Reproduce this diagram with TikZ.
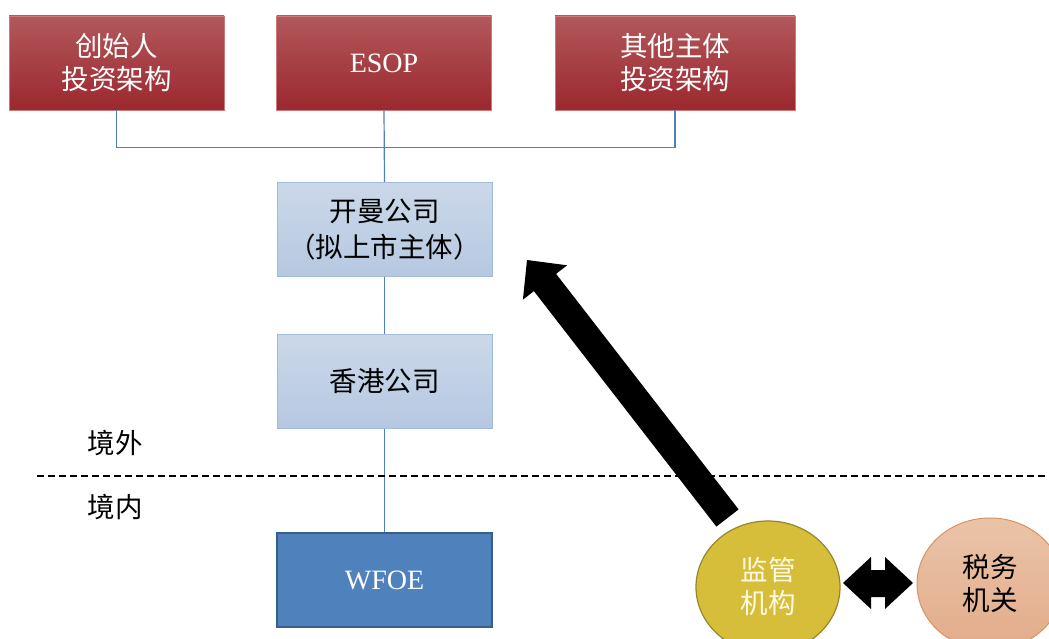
\documentclass[tikz,border=0pt]{standalone}
\usepackage{fontspec}
\setmainfont{Liberation Serif}
\newfontfamily\cjk{Noto Sans CJK SC}
\usetikzlibrary{shapes.geometric}
\definecolor{redtop}{RGB}{178,88,92}
\definecolor{redbot}{RGB}{155,40,46}
\definecolor{redline}{RGB}{205,120,122}
\definecolor{bluetop}{RGB}{203,216,233}
\definecolor{bluebot}{RGB}{182,200,225}
\definecolor{blueline}{RGB}{160,187,220}
\definecolor{wfoe}{RGB}{79,129,189}
\definecolor{wfoeline}{RGB}{56,93,138}
\definecolor{conncol}{RGB}{79,129,189}
\definecolor{gold}{RGB}{214,190,58}
\definecolor{goldline}{RGB}{150,135,40}
\definecolor{peachtop}{RGB}{234,196,168}
\definecolor{peachbot}{RGB}{226,172,138}
\definecolor{peachline}{RGB}{220,145,95}
\definecolor{cream}{RGB}{255,250,225}
\tikzset{
  redbox/.style={rectangle, minimum width=215, minimum height=94, top color=redtop, bottom color=redbot, draw=redline, line width=0.8, text=white, align=center},
  bluebox/.style={rectangle, minimum width=215, minimum height=94, top color=bluetop, bottom color=bluebot, draw=blueline, line width=1, text=black, align=center},
  wfoebox/.style={rectangle, minimum width=215, minimum height=94, fill=wfoe, draw=wfoeline, line width=1.5, text=white, align=center},
  cjkfont/.style={font=\cjk\fontsize{27.5}{33}\selectfont},
  latfont/.style={font=\fontsize{28}{34}\selectfont},
  conn/.style={draw=conncol, line width=1.2},
  region/.style={font=\cjk\fontsize{27.5}{33}\selectfont, text=black},
}
\begin{document}
\begin{tikzpicture}[x=1pt,y=-1pt]
\useasboundingbox (0,0) rectangle (1049,639);
\clip (0,0) rectangle (1049,639);
\fill[white] (0,0) rectangle (1049,639);

% top boxes
\node[redbox, cjkfont] (f) at (116.5,63) {创始人\\投资架构};
\node[redbox, latfont] (e) at (384,63) {ESOP};
\node[redbox, cjkfont, minimum width=240] (o) at (675,63) {其他主体\\投资架构};

% middle
\node[bluebox, font=\cjk\fontsize{27.5}{36}\selectfont] (k) at (384.5,229.5) {开曼公司\\（拟上市主体）};
\node[bluebox, cjkfont] (h) at (384.5,381) {香港公司};
\node[wfoebox, latfont] (w) at (384.5,580) {WFOE};

% connectors
\draw[conn] (f.south) -- ++(0,37) -| (o.south);
\draw[conn] (e.south) -- (k.north);
\draw[conn] (k.south) -- (h.north);
\draw[conn] (h.south) -- (w.north);

% border line
\coordinate (dl) at (37,476);
\coordinate (dr) at (1052,476);
\draw[line width=1.2, dash pattern=on 7pt off 4pt] (dl) -- (dr);
\node[region] (out) at (115,443) {境外};
\node[region] (in) at (115,507) {境内};

% ellipses
\node[ellipse, minimum width=144, minimum height=132, fill=gold, draw=goldline, line width=1.2, text=cream, align=center, cjkfont, inner sep=0] (g) at (768,587) {监管\\机构};
\node[ellipse, minimum width=146, minimum height=132, top color=peachtop, bottom color=peachbot, draw=peachline, line width=1, text=black, align=center, cjkfont, inner sep=0] (t) at (990,584) {税务\\机关};

% big arrow
\fill[black] (716.4,526.6) -- (533.9,291.1) -- (522.9,299.7) -- (527,260) -- (567.1,265.3) -- (556.1,273.9) -- (738.6,509.4) -- cycle;

% double arrow
\fill[black] (843,583) -- (871,557) -- (871,570) -- (885,570) -- (885,557) -- (913,583) -- (885,609) -- (885,597) -- (871,597) -- (871,609) -- cycle;
\end{tikzpicture}
\end{document}
